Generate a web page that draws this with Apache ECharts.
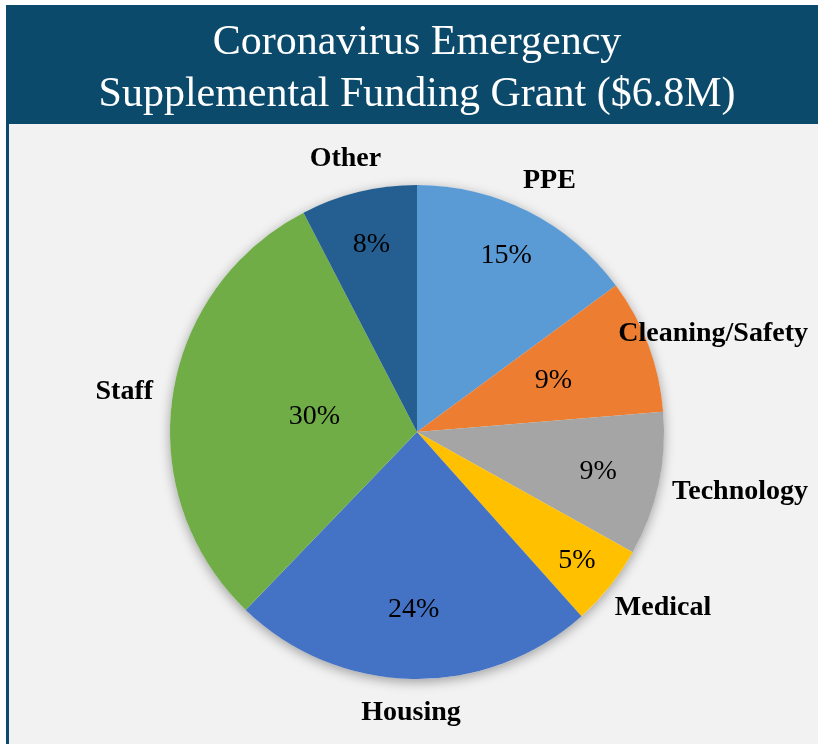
<!DOCTYPE html>
<html>
<head>
<meta charset="utf-8">
<script src="https://cdn.jsdelivr.net/npm/echarts@6/dist/echarts.min.js"></script>
<style>
  html, body { margin: 0; padding: 0; background: #fff; }
  #chart { width: 818px; height: 744px; }
</style>
</head>
<body>
<div id="chart"></div>
<script>
const categories = ['PPE', 'Cleaning/Safety', 'Technology', 'Medical', 'Housing', 'Staff', 'Other'];
const shares = [14.9, 8.8, 9.4, 5.3, 23.8, 30.2, 7.6];
const sliceColors = ['#5B9BD5', '#ED7D31', '#A5A5A5', '#FFC000', '#4472C4', '#70AD47', '#255E91'];
// where each percent label sits, as a fraction of the radius (Excel "best fit")
const pctLabelRadius = [0.80, 0.59, 0.75, 0.83, 0.72, 0.42, 0.78];

const CX = 417, CY = 432, R = 247;
const BANNER = '#0C4A6B';
const SERIF = "'Liberation Serif', 'Times New Roman', serif";

// mid angle of every slice, clockwise from 12 o'clock
const total = shares.reduce((a, b) => a + b, 0);
const midAngle = [];
let acc = 0;
shares.forEach(v => {
  midAngle.push((acc + v / 2) / total * 2 * Math.PI);
  acc += v;
});

function polar(r, a) {
  return [CX + r * Math.sin(a), CY - r * Math.cos(a)];
}

const chart = echarts.init(document.getElementById('chart'));

chart.setOption({
  animation: false,
  backgroundColor: '#ffffff',
  graphic: [
    { type: 'rect', shape: { x: 6, y: 5, width: 812, height: 119 }, style: { fill: BANNER }, z: -10 },
    { type: 'rect', shape: { x: 6, y: 124, width: 812, height: 620 }, style: { fill: '#F2F2F2' }, z: -10 },
    { type: 'rect', shape: { x: 6, y: 124, width: 3, height: 620 }, style: { fill: BANNER }, z: -10 }
  ],
  title: {
    text: 'Coronavirus Emergency\nSupplemental Funding Grant ($6.8M)',
    left: 417,
    top: 17,
    padding: 0,
    textAlign: 'center',
    textStyle: {
      color: '#ffffff',
      fontFamily: SERIF,
      fontWeight: 'normal',
      fontSize: 42,
      lineHeight: 52
    }
  },
  series: [
    {
      // soft shadow under the whole pie
      type: 'pie',
      silent: true,
      z: 1,
      center: [CX, CY],
      radius: R,
      label: { show: false },
      labelLine: { show: false },
      data: [{ value: 1, itemStyle: { color: '#F2F2F2', shadowBlur: 12, shadowColor: 'rgba(0,0,0,0.35)', shadowOffsetY: 3 } }]
    },
    {
      type: 'pie',
      z: 2,
      center: [CX, CY],
      radius: R,
      startAngle: 90,
      clockwise: true,
      silent: true,
      data: categories.map((c, i) => ({ name: c, value: shares[i], itemStyle: { color: sliceColors[i] } })),
      label: {
        show: true,
        position: 'inside',
        formatter: p => Math.round(p.percent) + '%',
        color: '#000',
        fontFamily: SERIF,
        fontSize: 28
      },
      labelLine: { show: false },
      labelLayout: p => {
        const [x, y] = polar(R * pctLabelRadius[p.dataIndex], midAngle[p.dataIndex]);
        return { x, y, align: 'center', verticalAlign: 'middle' };
      }
    },
    {
      // category names around the pie
      type: 'pie',
      z: 3,
      center: [CX, CY],
      radius: R,
      startAngle: 90,
      clockwise: true,
      silent: true,
      itemStyle: { color: 'transparent' },
      data: categories.map((c, i) => ({ name: c, value: shares[i] })),
      label: {
        show: true,
        position: 'inside',
        formatter: '{b}',
        color: '#000',
        fontFamily: SERIF,
        fontWeight: 'bold',
        fontSize: 28
      },
      labelLine: { show: false },
      labelLayout: p => {
        const a = midAngle[p.dataIndex];
        const w = p.labelRect.width, h = p.labelRect.height;
        let [x, y] = polar(R + 20, a);
        x += w / 2 * Math.sin(a);
        y -= h / 2 * Math.cos(a);
        x = Math.min(x, 808 - w / 2);
        return { x, y, align: 'center', verticalAlign: 'middle' };
      }
    }
  ]
});
</script>
</body>
</html>
